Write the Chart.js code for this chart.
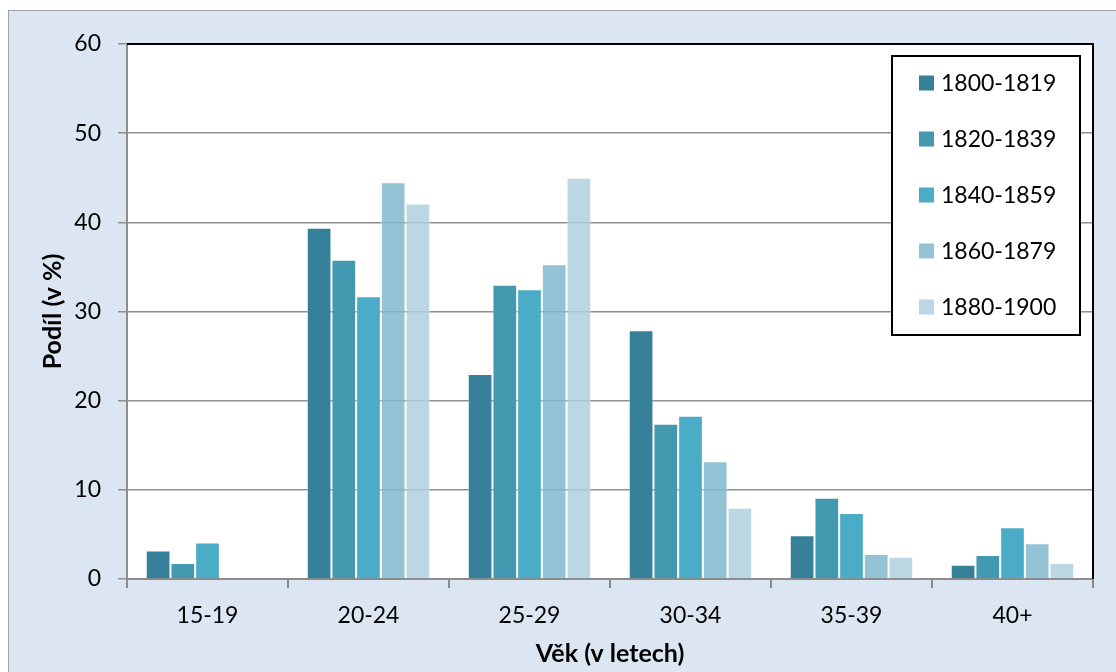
<!DOCTYPE html>
<html>
<head>
<meta charset="utf-8">
<script src="https://cdn.jsdelivr.net/npm/chart.js@4/dist/chart.umd.min.js"></script>
<style>
  html, body { margin:0; padding:0; background:#ffffff; overflow:hidden; }
  #frame { position:absolute; left:8px; top:10px; width:1300px; height:900px; background:#dce6f2; border:1px solid #a3a3a3; box-sizing:border-box; }
  #wrap { position:absolute; left:0; top:0; width:1116px; height:672px; }
</style>
</head>
<body>
<div id="frame"></div>
<div id="wrap"><canvas id="c" width="1116" height="672"></canvas></div>
<script>
const categories = ["15-19", "20-24", "25-29", "30-34", "35-39", "40+"];
const seriesLabels = ["1800-1819", "1820-1839", "1840-1859", "1860-1879", "1880-1900"];
const s1800 = [3.2, 39.4, 23.0, 27.9, 4.9, 1.6];
const s1820 = [1.8, 35.8, 33.0, 17.4, 9.1, 2.7];
const s1840 = [4.1, 31.7, 32.5, 18.3, 7.4, 5.8];
const s1860 = [0, 44.5, 35.3, 13.2, 2.8, 4.0];
const s1880 = [0, 42.1, 45.0, 8.0, 2.5, 1.8];
const yTicks = [0, 10, 20, 30, 40, 50, 60];

const colors = ["#36809a", "#4399b0", "#4aacc6", "rgba(128,184,206,0.85)", "rgba(175,208,222,0.85)"];
const legendColors = ["#36809a", "#4399b0", "#4aacc6", "#93c3d5", "#bbd7e3"];
const seriesData = [s1800, s1820, s1840, s1860, s1880];

const FONT = "Lato, 'Open Sans', sans-serif";

const plotBg = {
  id: 'plotBg',
  beforeDraw(chart) {
    const {ctx, chartArea:a} = chart;
    ctx.save();
    ctx.fillStyle = '#ffffff';
    ctx.fillRect(a.left, a.top, a.right - a.left, a.bottom - a.top);
    ctx.restore();
  },
  afterDraw(chart) {
    const {ctx, chartArea:a} = chart;
    ctx.save();
    ctx.strokeStyle = '#000000';
    ctx.lineWidth = 2;
    ctx.beginPath();
    ctx.moveTo(a.left, a.top);
    ctx.lineTo(a.right, a.top);
    ctx.lineTo(a.right, a.bottom);
    ctx.stroke();
    // legend
    const lx = 892, ly = 56, lw = 188, lh = 279;
    ctx.fillStyle = '#ffffff';
    ctx.fillRect(lx, ly, lw, lh);
    ctx.lineWidth = 2;
    ctx.strokeStyle = '#000000';
    ctx.strokeRect(lx, ly, lw, lh);
    ctx.font = "23px " + FONT;
    ctx.textBaseline = 'middle';
    ctx.textAlign = 'left';
    chart.data.datasets.forEach((ds, i) => {
      const cy = 83 + i * 56;
      ctx.fillStyle = legendColors[i];
      ctx.fillRect(919, cy - 7.5, 15, 15);
      ctx.fillStyle = '#000000';
      ctx.fillText(ds.label, 941, cy + 1);
    });
    ctx.restore();
  }
};

new Chart(document.getElementById('c'), {
  type: 'bar',
  data: {
    labels: categories,
    datasets: seriesLabels.map((l, i) => ({
      label: l,
      data: seriesData[i],
      backgroundColor: colors[i],
      borderColor: 'rgba(255,255,255,0.45)',
      borderWidth: 1,
      categoryPercentage: 0.767,
      barPercentage: 1.0
    }))
  },
  options: {
    responsive: false,
    animation: false,
    devicePixelRatio: 1,
    layout: { padding: { top: 44, right: 23, left: 0, bottom: 0 } },
    plugins: { legend: { display: false }, tooltip: { enabled: false } },
    scales: {
      x: {
        afterFit(s) { s.height = 93; },
        grid: { drawOnChartArea: false, drawTicks: true, tickLength: 9, color: '#8c8c8c', lineWidth: 2, offset: true },
        border: { display: true, color: '#8c8c8c', width: 2 },
        ticks: { color: '#000000', font: { family: FONT, size: 23 }, padding: 14 },
        title: { display: true, text: 'Věk (v letech)', color: '#000000', font: { family: FONT, size: 25, weight: 'bold' }, padding: { top: 0, bottom: 3 } }
      },
      y: {
        min: 0, max: 60,
        afterFit(s) { s.width = 127; },
        afterBuildTicks(s) { s.ticks = yTicks.map(v => ({ value: v })); },
        grid: { drawTicks: true, tickLength: 9, color: '#8f8f8f', lineWidth: 1.5 },
        border: { display: true, color: '#8c8c8c', width: 2 },
        ticks: { color: '#000000', font: { family: FONT, size: 23 }, padding: 17 },
        title: { display: true, text: 'Podíl (v %)', color: '#000000', font: { family: FONT, size: 25, weight: 'bold' }, padding: { top: 38, bottom: 0 } }
      }
    }
  },
  plugins: [plotBg]
});
</script>
</body>
</html>
